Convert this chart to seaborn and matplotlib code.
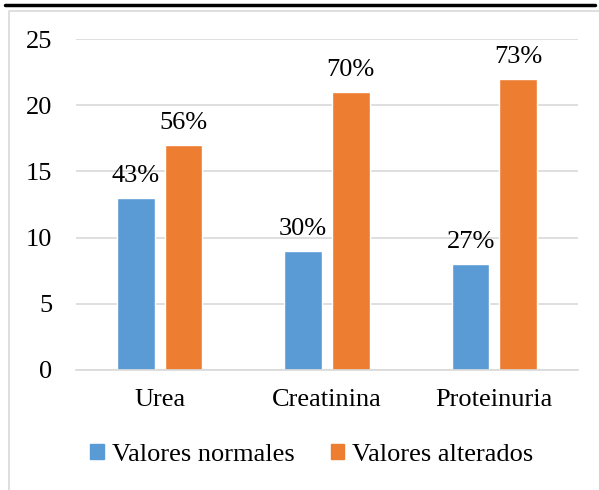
import matplotlib
matplotlib.use("Agg")
import matplotlib.pyplot as plt
import seaborn as sns
import pandas as pd
from matplotlib.lines import Line2D
from matplotlib.patches import Rectangle

categories = ["Urea", "Creatinina", "Proteinuria"]
series_names = ["Valores normales", "Valores alterados"]
normales = [13, 9, 8]
alterados = [17, 21, 22]
pct_normales = ["43%", "30%", "27%"]
pct_alterados = ["56%", "70%", "73%"]
colors = ["#5B9BD5", "#ED7D31"]

df = pd.DataFrame({
    "cat": categories * 2,
    "serie": [series_names[0]] * 3 + [series_names[1]] * 3,
    "val": normales + alterados,
})

sns.set_style("white")
plt.rcParams["font.family"] = ["Liberation Serif", "DejaVu Serif"]
plt.rcParams["text.color"] = "black"
plt.rcParams["xtick.color"] = "black"
plt.rcParams["ytick.color"] = "black"
plt.rcParams["xtick.labelcolor"] = "black"
plt.rcParams["ytick.labelcolor"] = "black"

fig = plt.figure(figsize=(5.99, 4.90), dpi=100)
ax = fig.add_axes([76 / 599, 1 - 370 / 490, (578 - 76) / 599, (370 - 39) / 490])

sns.barplot(data=df, x="cat", y="val", hue="serie", palette=colors,
            width=0.568, gap=0.21, ax=ax, legend=False, saturation=1)

ax.set_ylim(0, 25)
ax.set_xlim(-0.5, 2.5)
ax.set_yticks([0, 5, 10, 15, 20, 25])
ax.yaxis.grid(True, color="#D9D9D9", linewidth=1.2)
ax.set_axisbelow(True)
for s in ["top", "right", "left"]:
    ax.spines[s].set_visible(False)
ax.spines["bottom"].set_color("#D9D9D9")
ax.spines["bottom"].set_linewidth(1.2)
ax.set_xlabel("")
ax.set_ylabel("")
ax.tick_params(axis="y", length=0, labelsize=19, pad=17, labelcolor="black")
ax.tick_params(axis="x", length=0, labelsize=19, pad=14, labelcolor="black")

labels_all = [pct_normales, pct_alterados]
for cont, labs in zip(ax.containers, labels_all):
    ax.bar_label(cont, labels=labs, fontsize=19, padding=8, color="black")

handles = [Rectangle((0, 0), 1, 1, color=c) for c in colors]
leg = fig.legend(handles, series_names, loc="center", bbox_to_anchor=(0.521, 1 - 455 / 490),
                 ncol=2, frameon=False, fontsize=19,
                 handlelength=0.5, handleheight=0.5,
                 handletextpad=0.3, columnspacing=1.4)
for t in leg.get_texts():
    t.set_fontfamily("Liberation Serif")
    t.set_color("black")

fig.add_artist(Line2D([5 / 599, 595 / 599], [1 - 5 / 490, 1 - 5 / 490],
                      color="black", linewidth=2.5, transform=fig.transFigure))
fig.add_artist(Line2D([9 / 599, 9 / 599, 599 / 599], [0, 1 - 11 / 490, 1 - 11 / 490],
                      color="#D9D9D9", linewidth=1.2, transform=fig.transFigure))

fig.savefig("out.png", dpi=100)
